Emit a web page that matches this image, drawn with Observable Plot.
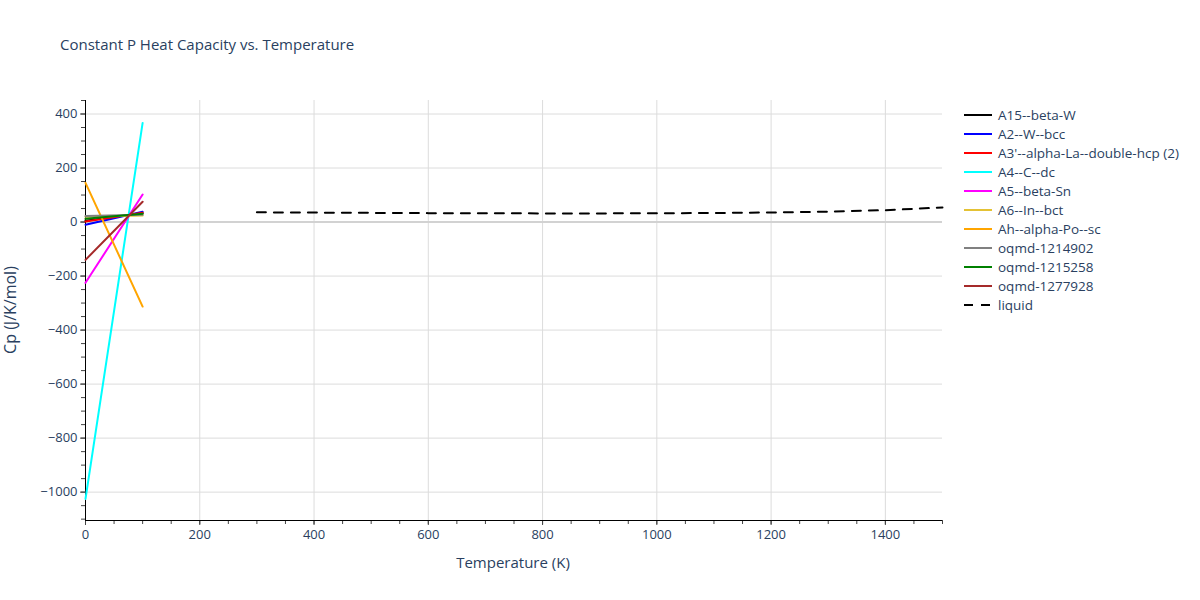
<!DOCTYPE html>
<html>
<head>
<meta charset="utf-8">
<script src="https://cdn.jsdelivr.net/npm/d3@7"></script>
<script src="https://cdn.jsdelivr.net/npm/@observablehq/plot@0.6"></script>
<style>
  body { margin: 0; background: #fff; font-family: "Open Sans", sans-serif; }
  #wrap { position: relative; width: 1200px; height: 600px; overflow: hidden; }
  #title { position: absolute; left: 60px; top: 34px; font-size: 15px; color: #2a3f5f; white-space: nowrap; }
  #ylabel { position: absolute; left: 10px; top: 310px; font-size: 16px; color: #2a3f5f; transform: translate(-50%, -50%) rotate(-90deg); transform-origin: center; white-space: nowrap; }
  #xlabel { position: absolute; left: 513px; top: 552px; font-size: 15px; color: #2a3f5f; transform: translateX(-50%); white-space: nowrap; }
  #legend { position: absolute; left: 963px; top: 105px; font-size: 13.5px; color: #2a3f5f; }
  .item { height: 19px; display: flex; align-items: center; white-space: nowrap; }
  .item svg { margin-right: 5px; }
</style>
</head>
<body>
<div id="wrap">
  <div id="chart"></div>
  <div id="title">Constant P Heat Capacity vs. Temperature</div>
  <div id="ylabel">Cp (J/K/mol)</div>
  <div id="xlabel">Temperature (K)</div>
  <div id="legend"></div>
</div>
<script>
// Series names and colors
const seriesNames = ["A15--beta-W", "A2--W--bcc", "A3'--alpha-La--double-hcp (2)", "A4--C--dc", "A5--beta-Sn", "A6--In--bct", "Ah--alpha-Po--sc", "oqmd-1214902", "oqmd-1215258", "oqmd-1277928"];
const seriesColors = ["#000000", "#0000ff", "#ff0000", "#00ffff", "#ff00ff", "#e4c235", "#ffa500", "#808080", "#008000", "#a52a2a"];

// Solid phases: temperatures and Cp values
const solidT = [0, 100];
const cpA15 = [5, 33];
const cpA2 = [-10, 38];
const cpA3 = [2, 34];
const cpA4 = [-1025, 367];
const cpA5 = [-225, 102];
const cpA6 = [20, 24];
const cpAh = [145, -313];
const cpOq1214902 = [22, 27];
const cpOq1215258 = [12, 31];
const cpOq1277928 = [-140, 75];
const solidValues = [cpA15, cpA2, cpA3, cpA4, cpA5, cpA6, cpAh, cpOq1214902, cpOq1215258, cpOq1277928];

// Liquid phase
const liquidT = [300, 400, 500, 600, 700, 800, 900, 1000, 1100, 1200, 1300, 1400, 1500];
const liquidCp = [36, 35, 34, 33, 32.5, 32, 32, 32.5, 33.5, 35.5, 38.5, 44, 54];

// Axis ticks
const xTicks = [0, 200, 400, 600, 800, 1000, 1200, 1400];
const yTicks = [-1000, -800, -600, -400, -200, 0, 200, 400];

const yMin = -1105, yMax = 450;
const xMinorTicks = d3.range(0, 1501, 50);
const yMinorTicks = d3.range(-1100, 451, 50);

const solidData = [];
seriesNames.forEach((name, i) => {
  solidT.forEach((t, j) => solidData.push({series: name, T: t, cp: solidValues[i][j]}));
});
const liquidData = liquidT.map((t, i) => ({T: t, cp: liquidCp[i]}));

const fmt = d3.format("d");
const fontAxis = {fontSize: 13, fontFamily: "Open Sans"};

const plot = Plot.plot({
  width: 1200,
  height: 600,
  marginLeft: 85,
  marginRight: 258,
  marginTop: 100,
  marginBottom: 80,
  style: {fontFamily: "Open Sans", fontSize: "13px", background: "white", overflow: "visible"},
  x: {domain: [0, 1500]},
  y: {domain: [yMin, yMax]},
  color: {domain: seriesNames, range: seriesColors},
  marks: [
    Plot.gridX(xTicks.filter(d => d !== 0), {stroke: "#dcdcdc", strokeOpacity: 1}),
    Plot.gridY(yTicks.filter(d => d !== 0), {stroke: "#dcdcdc", strokeOpacity: 1}),
    Plot.ruleY([0], {stroke: "#d2d2d2", strokeWidth: 2}),
    Plot.axisX({ticks: xMinorTicks, tickSize: 4, tickFormat: () => "", stroke: "#444", label: null}),
    Plot.axisY({ticks: yMinorTicks, tickSize: 4, tickFormat: () => "", stroke: "#444", label: null}),
    Plot.axisX({ticks: xTicks, tickSize: 5, tickPadding: 4, tickFormat: fmt, stroke: "#444", fill: "#2a3f5f", label: null, ...fontAxis}),
    Plot.axisY({ticks: yTicks, tickSize: 5, tickPadding: 3, tickFormat: fmt, stroke: "#444", fill: "#2a3f5f", label: null, ...fontAxis}),
    Plot.ruleX([0], {stroke: "black", strokeWidth: 1}),
    Plot.ruleY([yMin], {stroke: "black", strokeWidth: 1}),
    Plot.line(solidData, {x: "T", y: "cp", z: "series", stroke: "series", strokeWidth: 2}),
    Plot.line(liquidData, {x: "T", y: "cp", stroke: "black", strokeWidth: 2, strokeDasharray: "9,8"})
  ]
});
document.getElementById("chart").appendChild(plot);

// Legend
const legend = document.getElementById("legend");
const legendItems = seriesNames.map((n, i) => ({name: n, color: seriesColors[i], dash: null}))
  .concat([{name: "liquid", color: "#000000", dash: "9,8"}]);
legendItems.forEach(it => {
  const row = document.createElement("div");
  row.className = "item";
  row.innerHTML = `<svg width="30" height="6"><line x1="1" y1="3" x2="29" y2="3" stroke="${it.color}" stroke-width="2" ${it.dash ? `stroke-dasharray="${it.dash}"` : ""}/></svg><span>${it.name}</span>`;
  legend.appendChild(row);
});
</script>
</body>
</html>
